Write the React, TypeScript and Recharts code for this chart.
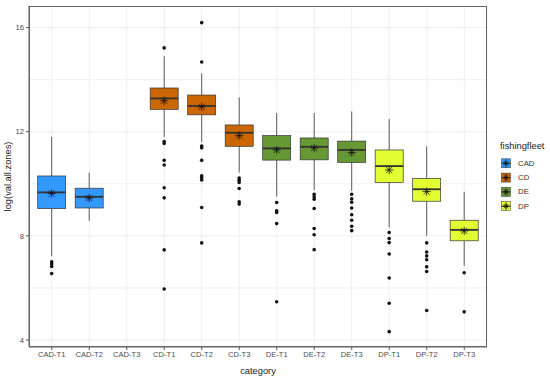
import React from 'react';
import { ComposedChart, Bar, XAxis, YAxis, CartesianGrid } from 'recharts';

const categories = ['CAD-T1', 'CAD-T2', 'CAD-T3', 'CD-T1', 'CD-T2', 'CD-T3', 'DE-T1', 'DE-T2', 'DE-T3', 'DP-T1', 'DP-T2', 'DP-T3'];
const categoryFleet = ['CAD', 'CAD', 'CAD', 'CD', 'CD', 'CD', 'DE', 'DE', 'DE', 'DP', 'DP', 'DP'];
const fleets = ['CAD', 'CD', 'DE', 'DP'];
const fleetColors = ['#3399FF', '#CC6600', '#669933', '#E1FF33'];

const lowerWhisker = [7.23, 8.58, null, 11.8, 11.6, 10.43, 9.51, 9.76, 9.73, 8.32, 8.0, 6.85];
const q1 = [9.05, 9.07, null, 12.86, 12.65, 11.44, 10.91, 10.92, 10.82, 10.05, 9.33, 7.81];
const median = [9.67, 9.5, null, 13.28, 12.99, 11.96, 11.36, 11.42, 11.3, 10.68, 9.79, 8.23];
const q3 = [10.3, 9.83, null, 13.68, 13.41, 12.26, 11.85, 11.76, 11.64, 11.3, 10.2, 8.6];
const upperWhisker = [11.8, 10.43, null, 14.9, 14.24, 13.32, 12.72, 12.72, 12.78, 12.49, 11.44, 9.69];
const means = [9.63, 9.45, null, 13.19, 12.96, 11.85, 11.3, 11.37, 11.2, 10.53, 9.7, 8.19];
const outliers: number[][] = [
  [7.0, 6.92, 6.82, 6.55],
  [],
  [],
  [15.22, 11.62, 11.55, 10.9, 10.72, 9.85, 9.46, 7.46, 5.96],
  [16.19, 14.68, 11.45, 11.38, 10.9, 10.31, 10.24, 10.15, 9.09, 7.73],
  [10.22, 10.14, 10.05, 9.82, 9.31, 9.22],
  [9.28, 8.96, 8.9, 8.47, 5.47],
  [9.6, 9.5, 9.41, 9.05, 8.28, 8.04, 7.47],
  [9.6, 9.42, 9.29, 9.07, 8.81, 8.6, 8.37, 8.2],
  [8.13, 7.9, 7.74, 7.3, 6.38, 5.41, 4.32],
  [7.73, 7.38, 7.23, 7.08, 6.81, 6.63, 5.13],
  [6.58, 5.08],
];
const yTicks = [4, 8, 12, 16];
const yGridValues = [4, 6, 8, 10, 12, 14, 16];
const yDomain = [3.73, 16.83];

const data = categories.map((c, i) => ({
  category: c,
  fleet: categoryFleet[i],
  color: fleetColors[fleets.indexOf(categoryFleet[i])],
  lo: lowerWhisker[i],
  q1: q1[i],
  med: median[i],
  q3: q3[i],
  hi: upperWhisker[i],
  mean: means[i],
  out: outliers[i],
  box: q1[i] == null ? null : [q1[i], q3[i]],
}));

const FONT = '"Liberation Sans", Arial, sans-serif';
const INK = '#333333';

const Star = ({ cx, cy, r }: { cx: number; cy: number; r: number }) => {
  const d = r * 0.72;
  return (
    <g stroke="#111" strokeWidth={0.8}>
      <line x1={cx - r} y1={cy} x2={cx + r} y2={cy} />
      <line x1={cx} y1={cy - r} x2={cx} y2={cy + r} />
      <line x1={cx - d} y1={cy - d} x2={cx + d} y2={cy + d} />
      <line x1={cx - d} y1={cy + d} x2={cx + d} y2={cy - d} />
    </g>
  );
};

const BoxShape = (props: any) => {
  const { x, y, width, height, payload } = props;
  if (!payload || payload.q1 == null || height == null) return null;
  const top = Math.min(y, y + height);
  const h = Math.abs(height);
  const ppu = h / (payload.q3 - payload.q1);
  const py = (v: number) => top + (payload.q3 - v) * ppu;
  const cx = x + width / 2;
  return (
    <g>
      <line x1={cx} y1={py(payload.hi)} x2={cx} y2={py(payload.q3)} stroke={INK} strokeWidth={0.8} />
      <line x1={cx} y1={py(payload.q1)} x2={cx} y2={py(payload.lo)} stroke={INK} strokeWidth={0.8} />
      <rect x={x} y={top} width={width} height={h} fill={payload.color} stroke={INK} strokeWidth={0.7} />
      <line x1={x} y1={py(payload.med)} x2={x + width} y2={py(payload.med)} stroke={INK} strokeWidth={1.8} />
      {payload.out.map((v: number, k: number) => (
        <circle key={k} cx={cx} cy={py(v)} r={1.8} fill="#111" />
      ))}
      <Star cx={cx} cy={py(payload.mean)} r={4.2} />
    </g>
  );
};

const Legend = () => (
  <svg width={60} height={90} style={{ position: 'absolute', left: 490, top: 130, fontFamily: FONT }}>
    <text x={10} y={15.7} dominantBaseline="central" fontSize={9.3} fill="#1a1a1a">fishingfleet</text>
    {fleets.map((f, i) => {
      const cy = 33.3 + i * 14.3;
      return (
        <g key={f}>
          <rect x={11.5} y={cy - 4.5} width={9} height={9} fill={fleetColors[i]} stroke={INK} strokeWidth={0.5} />
          <line x1={16} y1={cy - 4.5} x2={16} y2={cy + 4.5} stroke={INK} strokeWidth={0.6} />
          <line x1={11.5} y1={cy} x2={20.5} y2={cy} stroke={INK} strokeWidth={1.2} />
          <Star cx={16} cy={cy} r={3} />
          <text x={28} y={cy} dominantBaseline="central" fontSize={7.8} fill="#333">{f}</text>
        </g>
      );
    })}
  </svg>
);

export default function App() {
  return (
    <div style={{ position: 'absolute', left: 0, top: 0, width: 550, height: 377, background: '#fff' }}>
      <ComposedChart
        width={550}
        height={377}
        data={data}
        margin={{ top: 6, right: 63, bottom: 0, left: 5 }}
        barCategoryGap="12.5%"
        style={{ fontFamily: FONT }}
      >
        <CartesianGrid stroke="#EBEBEB" strokeWidth={0.8} horizontalValues={yGridValues} />
        <XAxis
          dataKey="category"
          interval={0}
          height={30}
          padding={{ left: 4, right: 4 }}
          tickSize={3}
          tickMargin={2}
          tick={{ fontSize: 7.6, fill: '#4D4D4D' }}
          tickLine={{ stroke: '#555' }}
          axisLine={{ stroke: '#666' }}
          label={{ value: 'category', position: 'insideBottom', offset: 3, style: { fontSize: 9.3, fill: '#1a1a1a' } }}
        />
        <YAxis
          type="number"
          domain={yDomain}
          ticks={yTicks}
          allowDataOverflow
          width={24}
          tickSize={3}
          tickMargin={2}
          tick={{ fontSize: 7.6, fill: '#4D4D4D' }}
          tickLine={{ stroke: '#555' }}
          axisLine={{ stroke: '#666' }}
          label={{ value: 'log(val.all.zones)', angle: -90, position: 'insideLeft', offset: 3, style: { textAnchor: 'middle', fontSize: 9.3, fill: '#1a1a1a' } }}
        />
        <Bar dataKey="box" shape={<BoxShape />} isAnimationActive={false} />
      </ComposedChart>
      <div
        style={{
          position: 'absolute',
          left: 29,
          top: 6,
          width: 458,
          height: 341,
          boxSizing: 'border-box',
          border: '1px solid #666',
          pointerEvents: 'none',
        }}
      />
      <Legend />
    </div>
  );
}
